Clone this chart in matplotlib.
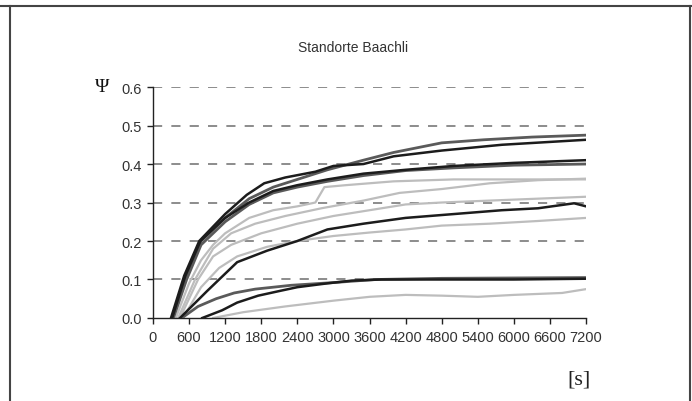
import matplotlib
matplotlib.use("Agg")
import matplotlib.pyplot as plt
from matplotlib.lines import Line2D

plt.rcParams['font.family'] = ['Liberation Sans', 'DejaVu Sans']

# curves (time in s, Psi)
a_t = [330, 550, 800, 1200, 1600, 2000, 2400, 2900, 3500, 4000, 4800, 5500, 6300, 7200]
a_y = [0, 0.11, 0.2, 0.26, 0.31, 0.34, 0.36, 0.385, 0.41, 0.43, 0.455, 0.463, 0.47, 0.475]

b_t = [300, 520, 770, 1200, 1560, 1850, 2200, 2700, 3000, 3500, 4000, 4800, 5800, 7200]
b_y = [0, 0.11, 0.2, 0.27, 0.32, 0.35, 0.365, 0.38, 0.395, 0.40, 0.42, 0.435, 0.45, 0.463]

c_t = [320, 540, 790, 1200, 1600, 2000, 2400, 2900, 3500, 4200, 5000, 6000, 7200]
c_y = [0, 0.11, 0.2, 0.26, 0.30, 0.33, 0.345, 0.36, 0.375, 0.385, 0.395, 0.403, 0.41]

d_t = [340, 560, 800, 1200, 1600, 2000, 2400, 2900, 3500, 4200, 5000, 6000, 7200]
d_y = [0, 0.10, 0.19, 0.25, 0.295, 0.325, 0.34, 0.355, 0.37, 0.383, 0.39, 0.397, 0.40]

e_t = [450, 900, 1400, 1900, 2400, 2900, 3500, 4200, 5000, 5800, 6400, 7000, 7200]
e_y = [0, 0.07, 0.145, 0.175, 0.2, 0.23, 0.245, 0.26, 0.27, 0.28, 0.285, 0.298, 0.29]

f_t = [480, 750, 1050, 1350, 1700, 2300, 3000, 3700, 4800, 6000, 7200]
f_y = [0, 0.03, 0.05, 0.065, 0.075, 0.085, 0.092, 0.10, 0.103, 0.104, 0.105]

g_t = [820, 1150, 1400, 1750, 2100, 2400, 2900, 3300, 3800, 5000, 6000, 7200]
g_y = [0, 0.02, 0.04, 0.058, 0.07, 0.08, 0.09, 0.097, 0.10, 0.10, 0.10, 0.102]

h_t = [1000, 1500, 2200, 3000, 3600, 4200, 4800, 5400, 6000, 6800, 7200]
h_y = [0, 0.015, 0.03, 0.045, 0.055, 0.06, 0.058, 0.055, 0.06, 0.065, 0.075]

l1_t = [380, 600, 800, 1000, 1200, 1600, 2000, 2400, 2700, 2850, 3200, 4000, 5000, 6000, 7200]
l1_y = [0, 0.09, 0.15, 0.19, 0.22, 0.26, 0.28, 0.29, 0.30, 0.34, 0.345, 0.355, 0.36, 0.36, 0.36]

l2_t = [420, 700, 1000, 1300, 1700, 2200, 2800, 3500, 4100, 4800, 5600, 6400, 7200]
l2_y = [0, 0.10, 0.18, 0.22, 0.245, 0.265, 0.285, 0.305, 0.325, 0.335, 0.35, 0.358, 0.362]

l3_t = [450, 750, 1000, 1300, 1800, 2400, 3000, 3600, 4200, 4800, 5600, 6400, 7200]
l3_y = [0, 0.10, 0.16, 0.19, 0.22, 0.245, 0.265, 0.28, 0.295, 0.30, 0.305, 0.31, 0.315]

l4_t = [500, 800, 1100, 1400, 1900, 2400, 3000, 3600, 4200, 4800, 5600, 6400, 7200]
l4_y = [0, 0.08, 0.13, 0.16, 0.185, 0.2, 0.213, 0.222, 0.23, 0.24, 0.245, 0.252, 0.26]

x_ticks = list(range(0, 7201, 600))
y_ticks = [0.0, 0.1, 0.2, 0.3, 0.4, 0.5, 0.6]

fig = plt.figure(figsize=(6.92, 4.02), dpi=100)
ax = fig.add_axes([0.221, 0.2065, 0.626, 0.5745])

light = '#bdbdbd'
dark = '#5a5a5a'
black = '#1c1c1c'

# gridlines first
for yv in y_ticks[1:]:
    ax.plot([0, 7200], [yv, yv], color='#6e6e6e', lw=1.1, dashes=(6, 6), zorder=1)

# light grey curves
for t, y in [(l1_t, l1_y), (l2_t, l2_y), (l3_t, l3_y), (l4_t, l4_y), (h_t, h_y)]:
    ax.plot(t, y, color=light, lw=1.6, zorder=2)

# dark grey curves
for t, y in [(a_t, a_y), (d_t, d_y), (f_t, f_y)]:
    ax.plot(t, y, color=dark, lw=2.0, zorder=3)

# black curves
for t, y in [(b_t, b_y), (c_t, c_y), (e_t, e_y), (g_t, g_y)]:
    ax.plot(t, y, color=black, lw=1.8, zorder=4)

ax.set_xlim(0, 7200)
ax.set_ylim(0, 0.6)
ax.set_xticks(x_ticks)
ax.set_yticks(y_ticks)
ax.set_yticklabels([f'{v:.1f}' for v in y_ticks])
ax.spines['top'].set_visible(False)
ax.spines['right'].set_visible(False)
for s in ['left', 'bottom']:
    ax.spines[s].set_color('#222222')
    ax.spines[s].set_linewidth(1.0)
ax.tick_params(axis='x', direction='out', length=4, width=1, pad=5,
               labelsize=10.5, colors='#222222', labelcolor='#333333')
ax.tick_params(axis='y', direction='out', length=4, width=1, pad=4,
               labelsize=10.5, colors='#222222', labelcolor='#333333')
for lab in ax.get_xticklabels() + ax.get_yticklabels():
    lab.set_clip_on(False)
ax.patch.set_visible(False)

fig.text(353 / 692, 1 - 48 / 402, 'Standorte Baachli', ha='center', va='center',
         fontsize=10, color='#333333')
fig.text(102 / 692, 1 - 88 / 402, 'Ψ', ha='center', va='center',
         fontsize=14, family=['Liberation Serif', 'DejaVu Serif'], color='#111111')
fig.text(579 / 692, 1 - 380 / 402, '[s]', ha='center', va='center',
         fontsize=16, family=['Liberation Serif', 'DejaVu Serif'], color='#222222')

# page frame lines
frame = dict(color='#444444', lw=1.5, transform=fig.transFigure)
fig.add_artist(Line2D([0, 1], [1 - 7 / 402, 1 - 7 / 402], **frame))
fig.add_artist(Line2D([10 / 692, 10 / 692], [0, 1 - 7 / 402], **frame))
fig.add_artist(Line2D([690 / 692, 690 / 692], [0, 1 - 7 / 402], **frame))

fig.savefig('out.png', dpi=100)
